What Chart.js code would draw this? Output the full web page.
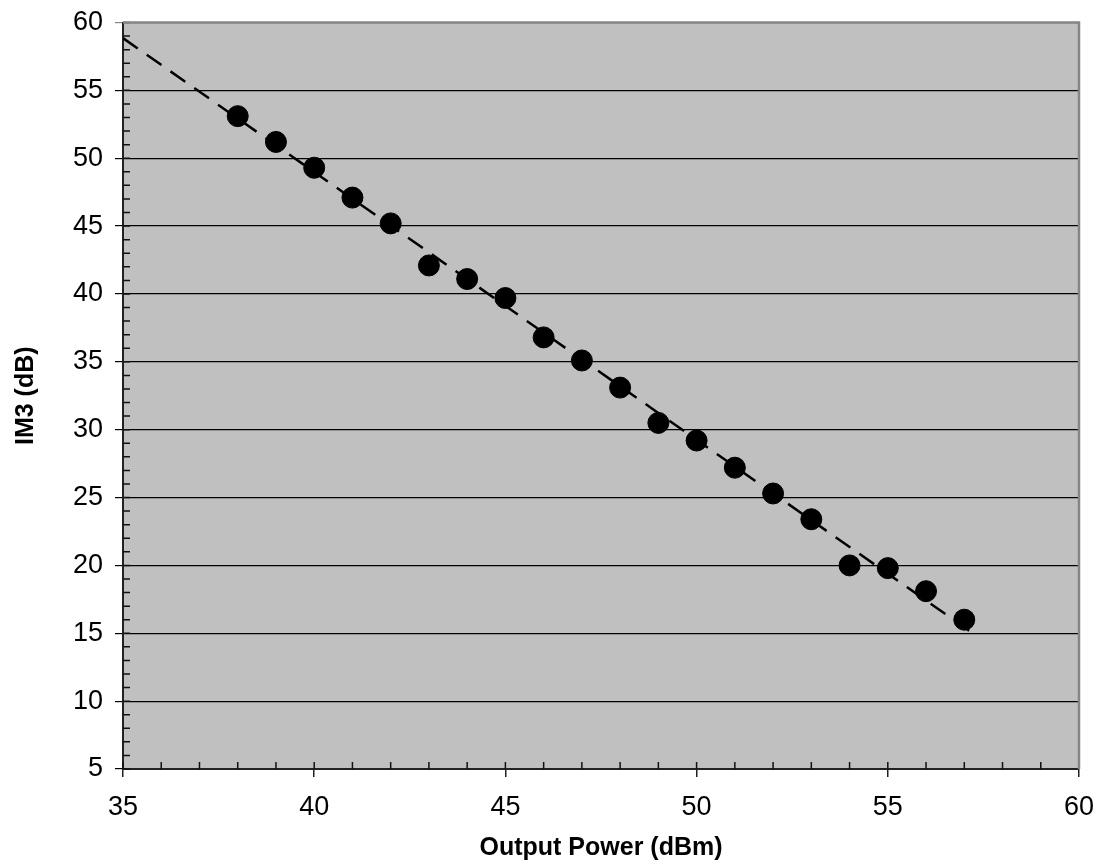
<!DOCTYPE html>
<html>
<head>
<meta charset="utf-8">
<script src="https://cdn.jsdelivr.net/npm/chart.js@4"></script>
<style>
  body { margin: 0; background: #fff; }
</style>
</head>
<body>
<canvas id="im3Chart" width="1101" height="865"></canvas>
<script>
const powerDbm = [38, 39, 40, 41, 42, 43, 44, 45, 46, 47, 48, 49, 50, 51, 52, 53, 54, 55, 56, 57];
const im3Db = [53.1, 51.2, 49.3, 47.1, 45.2, 42.1, 41.1, 39.7, 36.8, 35.1, 33.1, 30.5, 29.2, 27.2, 25.3, 23.4, 20.0, 19.8, 18.1, 16.0];
const trendX = [35, 57.25];
const trendY = [58.85, 14.95];

const font = 'Liberation Sans, Arial, sans-serif';

// grey plot area + grey top/right frame
const plotBg = {
  id: 'plotBg',
  beforeDraw(chart) {
    const { ctx, chartArea: a } = chart;
    ctx.save();
    ctx.fillStyle = '#c0c0c0';
    ctx.fillRect(a.left, a.top, a.right - a.left, a.bottom - a.top);
    ctx.restore();
  },
  afterDraw(chart) {
    const { ctx, chartArea: a } = chart;
    ctx.save();
    ctx.strokeStyle = '#868686';
    ctx.lineWidth = 2.5;
    ctx.beginPath();
    ctx.moveTo(a.left, a.top);
    ctx.lineTo(a.right, a.top);
    ctx.lineTo(a.right, a.bottom);
    ctx.stroke();
    ctx.restore();
  }
};

// small inward ticks every 1 unit
const minorTicks = {
  id: 'minorTicks',
  beforeDatasetsDraw(chart) {
    const { ctx, chartArea: a, scales } = chart;
    ctx.save();
    ctx.strokeStyle = '#111';
    ctx.lineWidth = 1.5;
    ctx.beginPath();
    for (let v = scales.x.min; v <= scales.x.max; v++) {
      const px = scales.x.getPixelForValue(v);
      ctx.moveTo(px, a.bottom);
      ctx.lineTo(px, a.bottom - 7);
    }
    for (let v = scales.y.min; v <= scales.y.max; v++) {
      const py = scales.y.getPixelForValue(v);
      ctx.moveTo(a.left, py);
      ctx.lineTo(a.left + 7, py);
    }
    ctx.stroke();
    ctx.restore();
  }
};

const ctx = document.getElementById('im3Chart').getContext('2d');
const chart = new Chart(ctx, {
  type: 'scatter',
  data: {
    datasets: [{
      label: 'IM3',
      data: powerDbm.map((x, i) => ({ x: x, y: im3Db[i] })),
      backgroundColor: '#000',
      borderColor: '#000',
      pointRadius: 10.5,
      pointHoverRadius: 10.5,
      order: 1
    }, {
      type: 'line',
      label: 'Trend',
      data: trendX.map((x, i) => ({ x: x, y: trendY[i] })),
      borderColor: '#000',
      borderWidth: 2.5,
      borderDash: [18, 11],
      pointRadius: 0,
      fill: false,
      order: 2
    }]
  },
  options: {
    responsive: false,
    animation: false,
    devicePixelRatio: 1,
    layout: { padding: { top: 22.5, right: 22, left: 0, bottom: 0 } },
    plugins: {
      legend: { display: false },
      tooltip: { enabled: false }
    },
    scales: {
      x: {
        type: 'linear',
        min: 35,
        max: 60,
        afterFit(s) { s.height = 96; s.paddingLeft = 0; s.paddingRight = 0; },
        border: { color: '#222', width: 2 },
        grid: { drawOnChartArea: false, drawTicks: true, tickLength: 8, color: '#222', lineWidth: 1.5 },
        ticks: { stepSize: 5, padding: 14, color: '#000', font: { family: font, size: 27 } },
        title: {
          display: true,
          text: 'Output Power (dBm)',
          color: '#000',
          padding: { top: 0, bottom: 2 },
          font: { family: font, size: 25, weight: 'bold' }
        }
      },
      y: {
        type: 'linear',
        min: 5,
        max: 60,
        afterFit(s) { s.width = 123; s.paddingTop = 0; s.paddingBottom = 0; },
        border: { color: '#222', width: 2 },
        grid: {
          drawTicks: true,
          tickLength: 8,
          color: c => (c.tick && c.tick.value === 60 ? '#868686' : '#000'),
          lineWidth: 1.2
        },
        ticks: { stepSize: 5, padding: 12, color: '#000', font: { family: font, size: 27 } },
        title: {
          display: true,
          text: 'IM3 (dB)',
          color: '#000',
          padding: { top: 11, bottom: 0 },
          font: { family: font, size: 25, weight: 'bold' }
        }
      }
    }
  },
  plugins: [plotBg, minorTicks]
});
</script>
</body>
</html>
